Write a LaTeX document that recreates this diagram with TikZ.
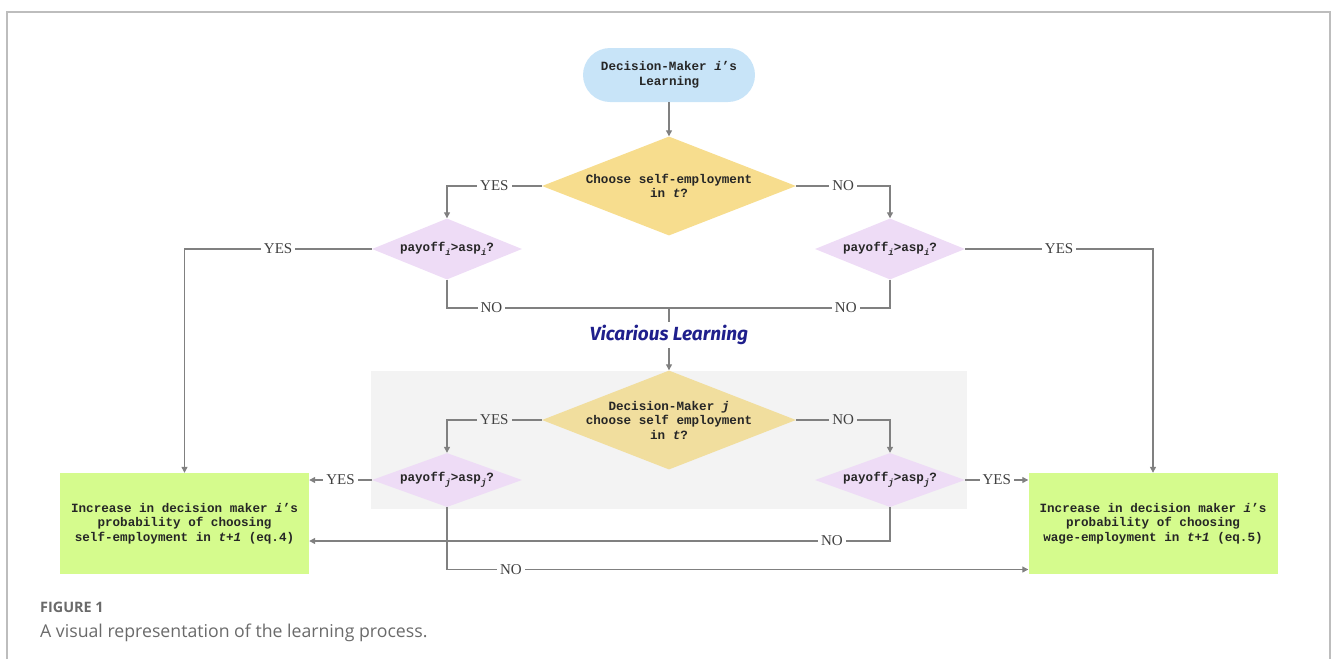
\documentclass[tikz,border=0pt]{standalone}
\usepackage{fontspec}
\setmainfont{Liberation Serif}
\setmonofont{Liberation Mono}
\newfontfamily\capfont{Open Sans}
\newfontfamily\vlfont{Fira Sans}
\usetikzlibrary{shapes.geometric,arrows.meta}
\definecolor{pillblue}{HTML}{C8E4F8}
\definecolor{askyellow}{HTML}{F7DD8E}
\definecolor{askyellowB}{HTML}{F1DE9E}
\definecolor{testpink}{HTML}{EEDCF6}
\definecolor{outgreen}{HTML}{D5FB8D}
\definecolor{vicbg}{HTML}{F3F3F3}
\definecolor{linegray}{HTML}{808080}
\definecolor{framegray}{HTML}{BDBDBD}
\definecolor{vicblue}{HTML}{1F1F8C}
\definecolor{capgray}{HTML}{6A6A6A}
\newcommand{\lowi}[1]{\raisebox{-3.5pt}{\fontsize{9}{9}\selectfont\itshape #1}}

\begin{document}
\begin{tikzpicture}[x=1pt,y=-1pt,
  mono/.style={font=\ttfamily\bfseries\fontsize{12.6}{14.5}\selectfont, text=black!85, align=center},
  pill/.style={rounded corners=27pt, fill=pillblue, minimum width=172pt, minimum height=54pt},
  ask/.style={diamond, fill=askyellow, minimum width=254pt, minimum height=99pt, inner sep=0pt},
  test/.style={diamond, fill=testpink, minimum width=150pt, minimum height=61pt, inner sep=0pt},
  outbox/.style={fill=outgreen, minimum width=249pt, minimum height=101pt},
  link/.style={draw=linegray, line width=1.2pt},
  flow/.style={link, -{Triangle[length=6pt,width=6pt]}},
  yn/.style={font=\fontsize{15}{15}\selectfont, text=black!75, fill=white, inner sep=3pt},
  capt/.style={anchor=base west, inner sep=0pt, text=capgray},
]
\useasboundingbox (0,0) rectangle (1331,659);
% frame of the figure
\draw[framegray, line width=1.5pt] (7,659) -- (7,12) -- (1330,12) -- (1330,659);

% own learning
\node[pill,mono] (start) at (669,75) {Decision-Maker \textit{i}’s\\Learning};
\node[ask] (self) at (669,186) {};
\node[mono] at (self) {Choose self-employment\\in \textit{t}?};
\node[test] (payL) at (447,249) {};
\node[mono] at (payL) {payoff\lowi{i}>asp\lowi{i}?};
\node[test] (payR) at (890,249) {};
\node[mono] at (payR) {payoff\lowi{i}>asp\lowi{i}?};

% outcomes
\node[outbox,mono] (incSelf) at (184.5,523.5) {Increase in decision maker \textit{i}’s\\probability of choosing\\self-employment in \textit{t+1} (eq.4)};
\node[outbox,mono] (incWage) at (1153,523.5) {Increase in decision maker \textit{i}’s\\probability of choosing\\wage-employment in \textit{t+1} (eq.5)};

% vicarious learning
\node[font=\vlfont\bfseries\itshape\fontsize{19}{19}\selectfont, text=vicblue] (vic) at (669,335) {Vicarious Learning};
\fill[vicbg] (371,371) rectangle (967,509);
\node[ask, fill=askyellowB] (other) at (669,420) {};
\node[mono] at (other) {Decision-Maker \textit{j}\\choose self employment\\in \textit{t}?};
\node[test, minimum height=54pt] (payLj) at (447,480) {};
\node[mono] at (payLj) {payoff\lowi{j}>asp\lowi{j}?};
\node[test, minimum height=54pt] (payRj) at (890,480) {};
\node[mono] at (payRj) {payoff\lowi{j}>asp\lowi{j}?};

% connectors
\draw[flow] (start) -- (self);
\draw[flow] (self.west) -- node[yn]{YES} (self.west -| payL) -- (payL.north);
\draw[flow] (self.east) -- node[yn]{NO} (self.east -| payR) -- (payR.north);
\draw[flow] (payL.west) -- node[yn]{YES} (payL.west -| incSelf) -- (incSelf.north);
\draw[flow] (payR.east) -- node[yn]{YES} (payR.east -| incWage) -- (incWage.north);
\coordinate (merge) at (669,308);
\draw[link] (payL.south) |- node[yn,pos=0.6]{NO} (merge);
\draw[link] (payR.south) |- node[yn,pos=0.6]{NO} (merge);
\draw[link] (merge) -- (vic.north);
\draw[flow] (vic.south) -- (other.north);
\draw[flow] (other.west) -- node[yn,fill=vicbg]{YES} (other.west -| payLj) -- (payLj.north);
\draw[flow] (other.east) -- node[yn,fill=vicbg]{NO} (other.east -| payRj) -- (payRj.north);
\draw[flow] (payLj.west) -- node[yn]{YES} (payLj.west -| incSelf.east);
\draw[flow] (payRj.east) -- node[yn]{YES} (payRj.east -| incWage.west);
\draw[flow] (payRj.south) |- node[yn,pos=0.55]{NO} ([yshift=-17.5pt]incSelf.east);
\draw[flow] (payLj.south) |- node[yn,pos=0.555]{NO} ([yshift=-46pt]incWage.west);

% caption
\node[capt, font=\capfont\bfseries\fontsize{14.4}{14.4}\selectfont] (figno) at (40,612) {FIGURE 1};
\node[capt, font=\capfont\fontsize{17.7}{17.7}\selectfont] (figcap) at (40,637) {A visual representation of the learning process.};
\end{tikzpicture}
\end{document}
